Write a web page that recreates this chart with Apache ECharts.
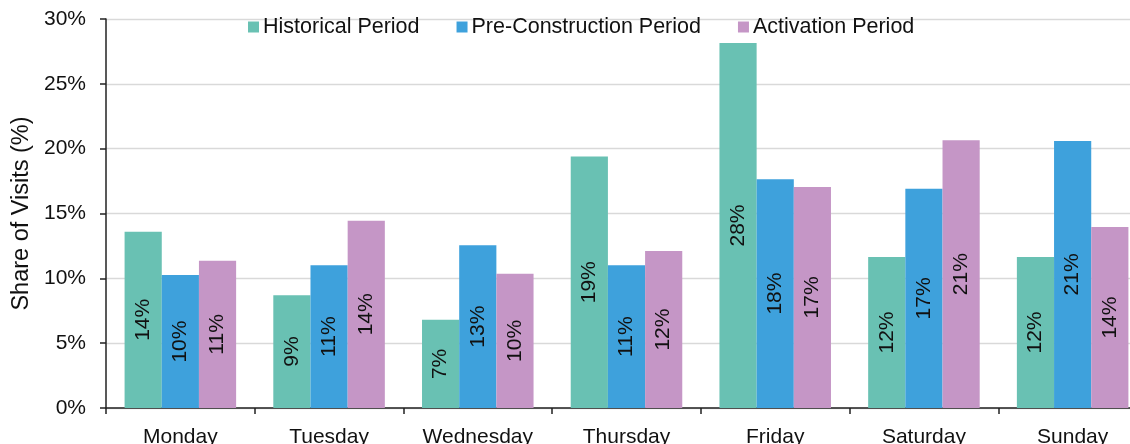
<!DOCTYPE html>
<html>
<head>
<meta charset="utf-8">
<script src="https://cdn.jsdelivr.net/npm/echarts@6/dist/echarts.min.js"></script>
<style>
html,body{margin:0;padding:0;background:#fff;}
#chart{width:1130px;height:444px;}
</style>
</head>
<body>
<div id="chart"></div>
<script>
const categories = ['Monday','Tuesday','Wednesday','Thursday','Friday','Saturday','Sunday'];
const seriesNames = ['Historical Period','Pre-Construction Period','Activation Period'];
const historical = [13.6, 8.7, 6.8, 19.4, 28.15, 11.65, 11.65];
const preConstruction = [10.25, 11.0, 12.55, 11.0, 17.65, 16.9, 20.6];
const activation = [11.35, 14.45, 10.35, 12.1, 17.05, 20.65, 13.95];
const yTicks = [0, 5, 10, 15, 20, 25, 30];
const colors = ['#69C1B3', '#3EA1DC', '#C596C6'];

const FONT = '"Liberation Sans", Arial, sans-serif';
const chart = echarts.init(document.getElementById('chart'), null, {renderer: 'canvas'});

function mkSeries(name, data, color) {
  return {
    name: name,
    type: 'bar',
    data: data,
    barGap: '0%',
    barCategoryGap: '25%',
    itemStyle: {color: color},
    label: {
      show: true,
      position: 'inside',
      rotate: 90,
      align: 'center',
      verticalAlign: 'middle',
      color: '#111',
      fontFamily: FONT,
      fontSize: 21,
      formatter: p => Math.round(p.value) + '%'
    }
  };
}

chart.setOption({
  animation: false,
  textStyle: {fontFamily: FONT},
  legend: {
    left: 243,
    top: 11,
    itemWidth: 11,
    itemHeight: 11,
    itemGap: 37,
    icon: 'rect',
    textStyle: {fontFamily: FONT, fontSize: 21.5, color: '#111', padding: [0, 0, 0, -1]},
    data: seriesNames
  },
  grid: {left: 106, top: 19, right: -17, bottom: 36, containLabel: false, outerBoundsMode: 'none'},
  xAxis: {
    type: 'category',
    data: categories,
    axisLine: {lineStyle: {color: '#222', width: 1.5}},
    axisTick: {show: true, length: 6, lineStyle: {color: '#222', width: 1.5}},
    axisLabel: {fontFamily: FONT, fontSize: 21, color: '#111', margin: 19},
    splitLine: {show: false}
  },
  yAxis: {
    type: 'value',
    min: 0,
    max: 30,
    interval: 5,
    name: 'Share of Visits (%)',
    nameLocation: 'middle',
    nameGap: 71,
    nameRotate: 90,
    nameTextStyle: {fontFamily: FONT, fontSize: 23.5, color: '#111'},
    axisLine: {show: true, lineStyle: {color: '#222', width: 1.5}},
    axisTick: {show: true, length: 6, lineStyle: {color: '#222', width: 1.5}},
    axisLabel: {
      fontFamily: FONT, fontSize: 21, color: '#111', margin: 20,
      formatter: v => (yTicks.indexOf(v) >= 0 ? v + '%' : '')
    },
    splitLine: {show: true, lineStyle: {color: '#D9D9D9', width: 1.3}}
  },
  series: [
    mkSeries(seriesNames[0], historical, colors[0]),
    mkSeries(seriesNames[1], preConstruction, colors[1]),
    mkSeries(seriesNames[2], activation, colors[2])
  ]
});
</script>
</body>
</html>
